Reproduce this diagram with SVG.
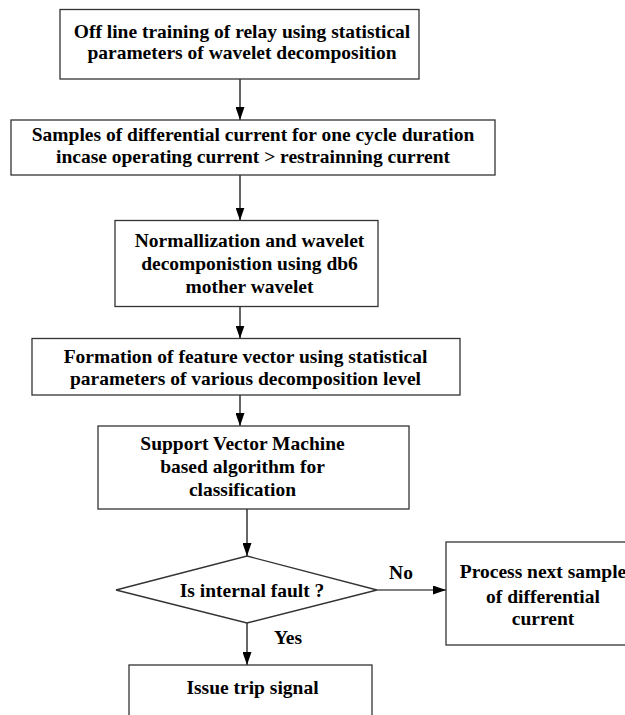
<svg xmlns="http://www.w3.org/2000/svg" width="625" height="715" viewBox="0 0 625 715">
<style>
.box{fill:#fff;stroke:#333;stroke-width:1.3}
.t{font-family:"Liberation Serif","Times New Roman",serif;font-weight:bold;font-size:19.5px;fill:#000;text-anchor:middle}
.c{stroke:#000;stroke-width:1.2;fill:none;marker-end:url(#ah)}
</style>
<defs>
<marker id="ah" markerWidth="13" markerHeight="9" refX="13" refY="4.5" orient="auto" markerUnits="userSpaceOnUse">
<path d="M0,0 L13,4.5 L0,9 Z" fill="#000"/>
</marker>
</defs>
<rect width="625" height="715" fill="#fff"/>
<g id="connectors">
<line class="c" x1="240" y1="79" x2="240" y2="120"/>
<line class="c" x1="240" y1="175" x2="240" y2="220.5"/>
<line class="c" x1="240" y1="307" x2="240" y2="338.5"/>
<line class="c" x1="240" y1="395" x2="240" y2="426"/>
<line class="c" x1="247" y1="509" x2="247" y2="556"/>
<line class="c" x1="377" y1="590" x2="446" y2="590"/>
<line class="c" x1="247" y1="623" x2="247" y2="665"/>
<text class="t" x="401" y="579">No</text>
<text class="t" x="288" y="644">Yes</text>
</g>
<g id="n1">
<rect class="box" x="60" y="9.5" width="359" height="69.5"/>
<text class="t" x="242" y="37.7">Off line training of relay using statistical</text>
<text class="t" x="242" y="59">parameters of wavelet decomposition</text>
</g>
<g id="n2">
<rect class="box" x="11" y="120" width="484" height="55"/>
<text class="t" x="253" y="140.5">Samples of differential current for one cycle duration</text>
<text class="t" x="253" y="163">incase operating current &gt; restrainning current</text>
</g>
<g id="n3">
<rect class="box" x="115" y="220.5" width="263" height="86"/>
<text class="t" x="249.5" y="246.7">Normallization and wavelet</text>
<text class="t" x="249.5" y="270">decomponistion using db6</text>
<text class="t" x="249.5" y="293.3">mother wavelet</text>
</g>
<g id="n4">
<rect class="box" x="32" y="338.5" width="428" height="56.5"/>
<text class="t" x="245.5" y="363">Formation of feature vector using statistical</text>
<text class="t" x="245.5" y="385">parameters of various decomposition level</text>
</g>
<g id="n5">
<rect class="box" x="98" y="426" width="311" height="83"/>
<text class="t" x="242.5" y="450">Support Vector Machine</text>
<text class="t" x="242.5" y="473.3">based algorithm for</text>
<text class="t" x="242.5" y="496">classification</text>
</g>
<g id="n6">
<polygon class="box" points="247,556 377,590 247,623 116,590"/>
<text class="t" x="252" y="596.7">Is internal fault ?</text>
</g>
<g id="n7">
<rect class="box" x="446" y="542" width="200" height="103"/>
<text class="t" x="543" y="578.3">Process next sample</text>
<text class="t" x="543" y="602.7">of differential</text>
<text class="t" x="543" y="625">current</text>
</g>
<g id="n8">
<rect class="box" x="129" y="665" width="243" height="70"/>
<text class="t" x="252.5" y="694">Issue trip signal</text>
</g>
</svg>
